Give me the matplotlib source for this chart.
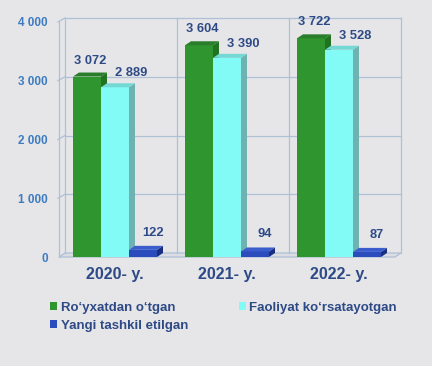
import matplotlib
matplotlib.use('Agg')
import matplotlib.pyplot as plt
from matplotlib.patches import Polygon, Patch
import numpy as np

years = ['2020- y.', '2021- y.', '2022- y.']
series_names = ['Ro‘yxatdan o‘tgan', 'Faoliyat ko‘rsatayotgan', 'Yangi tashkil etilgan']
registered = [3072, 3604, 3722]
active = [2889, 3390, 3528]
new_orgs = [122, 94, 87]
yticks = [0, 1000, 2000, 3000, 4000]
ytick_labels = ['0', '1 000', '2 000', '3 000', '4 000']

plt.rcParams['font.family'] = ['Liberation Sans', 'DejaVu Sans']
plt.rcParams['font.weight'] = 'bold'

BG = '#e6e6e8'
GRID = '#aebfd6'
NAVY = '#2e4a86'
TICKC = '#3d7cc0'

W, H = 432, 366
fig = plt.figure(figsize=(W / 100, H / 100), dpi=100)
fig.patch.set_facecolor(BG)
ax_l, ax_b, ax_w, ax_h = 59, 257, 336, 235  # pixels (front plane)
ax = fig.add_axes([ax_l / W, 1 - ax_b / H, ax_w / W, ax_h / H])
ax.set_facecolor('none')
ax.set_xlim(-0.5, 2.5)
ax.set_ylim(0, 4000)
for s in ax.spines.values():
    s.set_visible(False)

# 3D depth in data units
px_x = ax_w / 3.0
px_y = ax_h / 4000.0
DX = 6 / px_x
DY = 4 / px_y

# back wall grid
x0, x1 = -0.5, 2.5
for v in yticks:
    if v == 0:
        continue
    ax.plot([x0 + DX, x1 + DX], [v + DY, v + DY], color=GRID, lw=0.9, clip_on=False, zorder=1)
    ax.plot([x0 - 0.01, x0 + DX], [v - 0.01, v + DY], color=GRID, lw=0.9, clip_on=False, zorder=1)
# floor
floor = Polygon([[x0, 0], [x1, 0], [x1 + DX, DY], [x0 + DX, DY]], closed=True,
                facecolor='#dcdde2', edgecolor=GRID, lw=0.9, clip_on=False, zorder=1)
ax.add_patch(floor)
for xb in [x0 + DX, 0.5 + DX, 1.5 + DX, x1 + DX]:
    ax.plot([xb, xb], [DY, 4000 + DY], color=GRID, lw=0.9, clip_on=False, zorder=1)
ax.plot([x0, x0], [0, 4000], color=GRID, lw=0.9, clip_on=False, zorder=1)

# bars
series = [registered, active, new_orgs]
front_c = ['#2f962f', '#82fbf7', '#2b4cbc']
top_c = ['#2a7d2a', '#74d8d4', '#3a5ccc']
side_c = ['#217321', '#6eb3b1', '#1b2f82']
bw = 0.25
offsets = [-bw, 0, bw]
lab_dx = [3, 16, 10]
lab_dy = [16, 14, 17]
x = np.arange(len(years))
z = 3
for i in range(len(years)):
    for j, vals in enumerate(series):
        xc = x[i] + offsets[j]
        h = vals[i]
        xl, xr = xc - bw / 2, xc + bw / 2
        ax.bar(xc, h, width=bw, color=front_c[j], zorder=z, linewidth=0)
        ax.add_patch(Polygon([[xr, 0], [xr + DX, DY], [xr + DX, h + DY], [xr, h]],
                             closed=True, facecolor=side_c[j], lw=0, zorder=z))
        ax.add_patch(Polygon([[xl, h], [xr, h], [xr + DX, h + DY], [xl + DX, h + DY]],
                             closed=True, facecolor=top_c[j], lw=0, zorder=z))
        z += 1
        ax.annotate(f'{h:,}'.replace(',', ' '), (xc, h), xytext=(lab_dx[j], lab_dy[j]),
                    textcoords='offset pixels', ha='center', va='center',
                    fontsize=9.3, fontweight='bold', color=NAVY, zorder=50)

ax.set_yticks(yticks, ytick_labels)
ax.set_xticks(x, years)
ax.tick_params(axis='y', length=0, pad=8, labelsize=8.5, labelcolor=TICKC)
ax.tick_params(axis='x', length=0, pad=7, labelsize=11.5, labelcolor=NAVY)
for t in ax.get_yticklabels() + ax.get_xticklabels():
    t.set_fontweight('bold')

handles = [Patch(facecolor=front_c[0], edgecolor='none', label=series_names[0]),
           Patch(facecolor=front_c[2], edgecolor='none', label=series_names[2]),
           Patch(facecolor=front_c[1], edgecolor='none', label=series_names[1])]
leg = fig.legend(handles=handles, ncol=2, loc='upper left',
                 bbox_to_anchor=(50 / W, 1 - 302 / H), frameon=False,
                 prop={'family': ['Liberation Sans', 'DejaVu Sans'], 'weight': 'bold', 'size': 9.5},
                 labelcolor=NAVY, handlelength=0.55, handleheight=0.55,
                 handletextpad=0.25, columnspacing=3.85, labelspacing=0.42,
                 borderaxespad=0, borderpad=0)

fig.savefig('out.png', dpi=100, facecolor=BG)
